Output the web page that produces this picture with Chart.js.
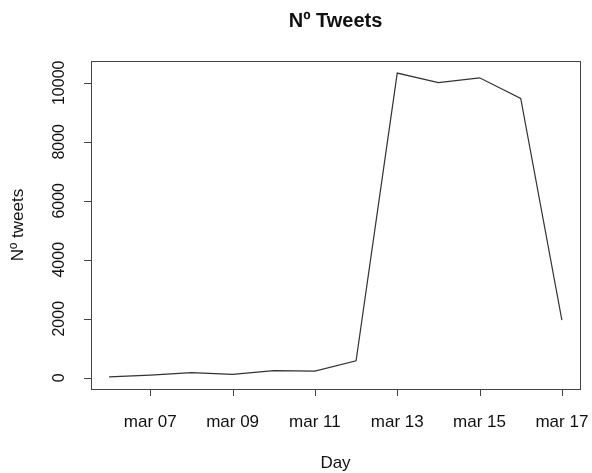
<!DOCTYPE html>
<html>
<head>
<meta charset="utf-8">
<script src="https://cdn.jsdelivr.net/npm/chart.js@4/dist/chart.umd.min.js"></script>
<style>
  html, body { margin: 0; padding: 0; background: #fff; }
  #wrap { width: 592px; height: 473px; }
</style>
</head>
<body>
<div id="wrap"><canvas id="tweetChart" width="592" height="473"></canvas></div>
<script>
// day of month (March) and tweets per day
const days = [6, 7, 8, 9, 10, 11, 12, 13, 14, 15, 16, 17];
const tweets = [30, 90, 170, 115, 240, 225, 575, 10330, 10010, 10170, 9470, 1955];
const xTicks = [7, 9, 11, 13, 15, 17];
const yTicks = [0, 2000, 4000, 6000, 8000, 10000];

const FONT = '"Liberation Sans", Arial, sans-serif';

// R-style axes: box, outside tick marks, rotated y labels
const baseAxes = {
    id: 'baseAxes',
    afterDraw(chart) {
        const { ctx, chartArea: a, scales } = chart;
        const x = scales.x, y = scales.y;
        ctx.save();
        ctx.strokeStyle = '#444';
        ctx.lineWidth = 1;
        ctx.strokeRect(a.left + 0.5, a.top + 0.5, a.right - a.left, a.bottom - a.top);

        ctx.fillStyle = '#111';
        ctx.font = '17px ' + FONT;

        // x axis
        ctx.beginPath();
        xTicks.forEach(d => {
            const px = Math.round(x.getPixelForValue(d)) + 0.5;
            ctx.moveTo(px, a.bottom);
            ctx.lineTo(px, a.bottom + 7);
        });
        ctx.stroke();
        ctx.textAlign = 'center';
        ctx.textBaseline = 'middle';
        xTicks.forEach(d => {
            const px = x.getPixelForValue(d);
            ctx.fillText('mar ' + String(d).padStart(2, '0'), px, 422);
        });

        // titles
        ctx.fillText('Day', (a.left + a.right) / 2, 463);
        ctx.save();
        ctx.translate(18, (a.top + a.bottom) / 2);
        ctx.rotate(-Math.PI / 2);
        ctx.fillText('Nº tweets', 0, 0);
        ctx.restore();

        // y axis
        ctx.font = '16px ' + FONT;
        ctx.beginPath();
        yTicks.forEach(v => {
            const py = Math.round(y.getPixelForValue(v)) + 0.5;
            ctx.moveTo(a.left, py);
            ctx.lineTo(a.left - 7, py);
        });
        ctx.stroke();
        yTicks.forEach(v => {
            const py = y.getPixelForValue(v);
            ctx.save();
            ctx.translate(60, py);
            ctx.rotate(-Math.PI / 2);
            ctx.fillText(String(v), 0, 0);
            ctx.restore();
        });

        ctx.font = 'bold 20px ' + FONT;
        ctx.fillText('Nº Tweets', (a.left + a.right) / 2, 21);
        ctx.restore();
    }
};

const ctx = document.getElementById('tweetChart').getContext('2d');
new Chart(ctx, {
    type: 'line',
    data: {
        datasets: [{
            label: 'Nº tweets',
            data: days.map((d, i) => ({ x: d, y: tweets[i] })),
            borderColor: '#333',
            borderWidth: 1.2,
            pointRadius: 0,
            tension: 0,
            fill: false
        }]
    },
    options: {
        responsive: false,
        animation: false,
        layout: { padding: { left: 91, top: 61, right: 12, bottom: 84 } },
        plugins: {
            legend: { display: false },
            tooltip: { enabled: false }
        },
        scales: {
            x: { type: 'linear', display: false, min: 5.56, max: 17.44 },
            y: { type: 'linear', display: false, min: -382, max: 10740 }
        }
    },
    plugins: [baseAxes]
});
</script>
</body>
</html>
